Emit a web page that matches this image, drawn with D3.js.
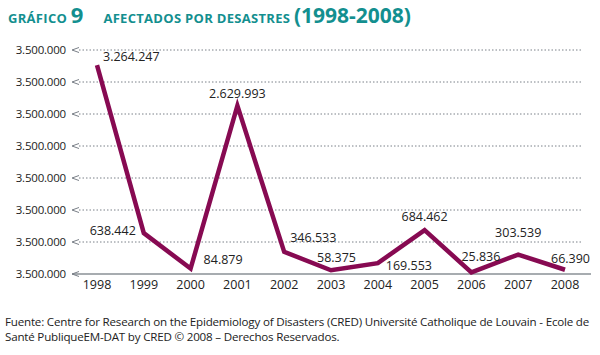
<!DOCTYPE html>
<html><head><meta charset="utf-8">
<script src="https://cdn.jsdelivr.net/npm/d3@7"></script>
<style>
body{margin:0;background:#fff;}
svg{display:block;font-family:"Open Sans","Noto Sans",sans-serif;}
</style></head>
<body><svg id="c" width="600" height="355"></svg>
<script>
const years = ["1998","1999","2000","2001","2002","2003","2004","2005","2006","2007","2008"];
const affected = [3264247,638442,84879,2629993,346533,58375,169553,684462,25836,303539,66390];
const valueLabels = ["3.264.247","638.442","84.879","2.629.993","346.533","58.375","169.553","684.462","25.836","303.539","66.390"];
const tickValues = [0,500000,1000000,1500000,2000000,2500000,3000000,3500000];
const tickLabels = ["3.500.000","3.500.000","3.500.000","3.500.000","3.500.000","3.500.000","3.500.000","3.500.000"];

// layout: label offsets (dx, dy, anchor) relative to each point
const labelOffsets = [[6,-4,"start"],[-8,2,"end"],[13,-5,"start"],[0,-8,"middle"],[6,-10,"start"],[-14,-8,"start"],[8,7,"start"],[0,-9,"middle"],[-10,-11,"start"],[0,-18,"middle"],[-14,-7,"start"]];

const svg = d3.select("#c");
const x = d3.scalePoint().domain(years).range([97,565]);
const y = d3.scaleLinear().domain([0,3500000]).range([274,50]);

// title
const t = svg.append("text").attr("x",8).attr("y",23).attr("fill","#138f8f").attr("font-weight","bold");
t.append("tspan").attr("font-size",13).attr("letter-spacing",0.3).text("GRÁFICO ");
t.append("tspan").attr("font-size",22).text("9");
t.append("tspan").attr("font-size",13).attr("dx",20).attr("letter-spacing",0.3).text("AFECTADOS POR DESASTRES ");
t.append("tspan").attr("font-size",21).text("(1998-2008)");

// gridlines
svg.append("g").selectAll("line").data(tickValues.slice(1)).join("line")
  .attr("x1",79).attr("x2",583).attr("y1",d=>y(d)).attr("y2",d=>y(d))
  .attr("stroke","#7a8088").attr("stroke-width",1).attr("stroke-dasharray","1.5,2");

// baseline axis
svg.append("line").attr("x1",72).attr("x2",591).attr("y1",y(0)).attr("y2",y(0))
  .attr("stroke","#8a9096").attr("stroke-width",1.5);

// arrow ticks
svg.append("g").selectAll("path").data(tickValues).join("path")
  .attr("d",d=>`M79,${y(d)-2.5} L72,${y(d)} L79,${y(d)+2.5}`)
  .attr("fill","none").attr("stroke","#7a8088").attr("stroke-width",1);

// y tick labels
svg.append("g").selectAll("text").data(tickValues).join("text")
  .attr("x",66).attr("y",d=>y(d)+4).attr("text-anchor","end")
  .attr("font-size",11.5).attr("fill","#222").attr("letter-spacing",-0.2)
  .text((d,i)=>tickLabels[i]);

// x tick labels
svg.append("g").selectAll("text").data(years).join("text")
  .attr("x",d=>x(d)).attr("y",289).attr("text-anchor","middle")
  .attr("font-size",12.5).attr("fill","#222").text(d=>d);

// line
const line = d3.line().x((d,i)=>x(years[i])).y(d=>y(d));
svg.append("path").datum(affected).attr("d",line)
  .attr("fill","none").attr("stroke","#870a52").attr("stroke-width",4.5)
  .attr("stroke-linejoin","miter");

// value labels
svg.append("g").selectAll("text").data(affected).join("text")
  .attr("x",(d,i)=>x(years[i])+labelOffsets[i][0])
  .attr("y",(d,i)=>y(d)+labelOffsets[i][1])
  .attr("text-anchor",(d,i)=>labelOffsets[i][2])
  .attr("font-size",12.5).attr("fill","#222")
  .text((d,i)=>valueLabels[i]);

// footer
const f = svg.append("text").attr("font-size",11.6).attr("fill","#222").attr("letter-spacing",-0.2);
f.append("tspan").attr("x",5).attr("y",326).text("Fuente: Centre for Research on the Epidemiology of Disasters (CRED)  Université Catholique de Louvain - Ecole de");
f.append("tspan").attr("x",5).attr("y",341).text("Santé PubliqueEM-DAT by CRED © 2008 – Derechos Reservados.");
</script></body></html>
